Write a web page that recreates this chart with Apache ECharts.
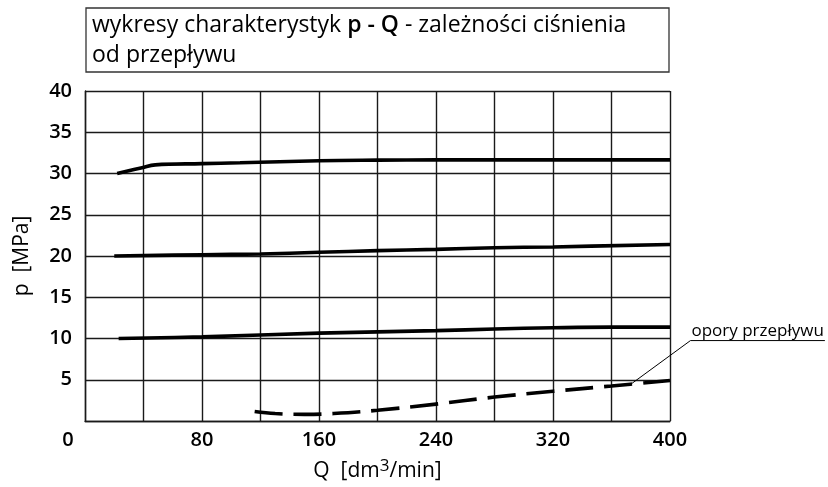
<!DOCTYPE html>
<html><head><meta charset="utf-8">
<script src="https://cdn.jsdelivr.net/npm/echarts@6/dist/echarts.min.js"></script>
<style>html,body{margin:0;padding:0;background:#fff}#c{width:828px;height:487px}</style>
</head><body><div id="c"></div>
<script>
// Data
const xLabelValues = [0, 80, 160, 240, 320, 400];
const yLabelValues = [5, 10, 15, 20, 25, 30, 35, 40];
const curve30 = [[22,30],[39,30.7],[48,31.05],[80,31.2],[106,31.3],[160,31.55],[200,31.62],[240,31.65],[320,31.65],[400,31.65]];
const curve20 = [[20,20],[80,20.15],[120,20.25],[160,20.45],[200,20.65],[240,20.8],[280,21.0],[320,21.1],[400,21.4]];
const curve10 = [[23,10],[80,10.2],[160,10.65],[240,10.95],[280,11.15],[320,11.3],[360,11.38],[400,11.38]];
const resistance = [[116,1.15],[130,0.9],[150,0.8],[170,0.9],[200,1.3],[240,2.05],[280,2.9],[320,3.6],[360,4.25],[400,4.9]];
const annotAnchor = [374, 4.56];
const annotLabelAt = [414, 9.75];
const annotText = 'opory przepływu';
const titleLine1 = ['wykresy charakterystyk ', 'p - Q', ' - zależności ciśnienia'];
const titleLine2 = 'od przepływu';

const FONT = '"Open Sans", sans-serif';
const chart = echarts.init(document.getElementById('c'), null, {renderer: 'canvas'});

function lineSeries(data, dashed) {
  return {
    type: 'line', data: data, smooth: 0.4, symbol: 'none', silent: true,
    lineStyle: {color: '#000', width: 3.6, type: dashed ? [28, 11] : 'solid', cap: 'butt'}
  };
}

chart.setOption({
  animation: false,
  backgroundColor: '#fff',
  grid: {left: 85, right: 158, top: 91, bottom: 63},
  xAxis: {
    type: 'value', min: 0, max: 400, interval: 40,
    name: 'Q  [dm{sup|3}/min]', nameLocation: 'middle', nameGap: 37,
    nameTextStyle: {fontFamily: FONT, fontSize: 21, color: '#000',
      rich: {sup: {fontFamily: FONT, fontSize: 17, color: '#000', verticalAlign: 'bottom', padding: [0,0,10,0]}}},
    axisLine: {show: true, lineStyle: {color: '#1a1a1a', width: 1.4}},
    axisTick: {show: false},
    splitLine: {show: true, lineStyle: {color: '#1a1a1a', width: 1.4}},
    axisLabel: {
      margin: 9, fontFamily: FONT, fontSize: 20, fontWeight: 600, color: '#000',
      formatter: function (v) {
        if (xLabelValues.indexOf(v) < 0) return '';
        return v === 0 ? '{z|0}' : String(v);
      },
      rich: {z: {fontFamily: FONT, fontSize: 20, fontWeight: 600, color: '#000', padding: [0, 34, 0, 0]}}
    }
  },
  yAxis: {
    type: 'value', min: 0, max: 40, interval: 5,
    name: 'p  [MPa]', nameLocation: 'middle', nameGap: 52, nameRotate: 90,
    nameTextStyle: {fontFamily: FONT, fontSize: 21, color: '#000'},
    axisLine: {show: true, lineStyle: {color: '#1a1a1a', width: 1.4}},
    axisTick: {show: false},
    splitLine: {show: true, lineStyle: {color: '#1a1a1a', width: 1.4}},
    axisLabel: {
      margin: 13, fontFamily: FONT, fontSize: 20, fontWeight: 600, color: '#000', padding: [6, 0, 0, 0],
      formatter: function (v) { return yLabelValues.indexOf(v) < 0 ? '' : String(v); }
    }
  },
  series: [lineSeries(curve30), lineSeries(curve20), lineSeries(curve10), lineSeries(resistance, true)]
});

const a = chart.convertToPixel({gridIndex: 0}, annotAnchor);
const b = chart.convertToPixel({gridIndex: 0}, annotLabelAt);
const ctx = document.createElement('canvas').getContext('2d');
ctx.font = '17px "Open Sans"';
const tw = ctx.measureText(annotText).width;

chart.setOption({
  graphic: [
    {id: 'tbox', type: 'rect', shape: {x: 86, y: 8, width: 583, height: 64},
      style: {fill: '#fff', stroke: '#333', lineWidth: 1.3}, silent: true},
    {id: 'ttext', type: 'text', x: 92, y: 10, silent: true,
      style: {
        text: '{n|' + titleLine1[0] + '}{b|' + titleLine1[1] + '}{n|' + titleLine1[2] + '}\n{n|' + titleLine2 + '}',
        rich: {
          n: {fontFamily: FONT, fontSize: 23, fill: '#000', lineHeight: 30},
          b: {fontFamily: FONT, fontSize: 23, fontWeight: 600, fill: '#000', lineHeight: 30}
        }
      }},
    {id: 'lead', type: 'line', shape: {x1: a[0], y1: a[1], x2: b[0], y2: b[1]},
      style: {stroke: '#000', lineWidth: 1}, silent: true},
    {id: 'under', type: 'line', shape: {x1: b[0], y1: b[1], x2: b[0] + tw + 2, y2: b[1]},
      style: {stroke: '#000', lineWidth: 1}, silent: true},
    {id: 'atext', type: 'text', x: b[0] + 1, y: b[1] - 1, silent: true,
      style: {text: annotText, fontFamily: FONT, fontSize: 17, fill: '#000', textVerticalAlign: 'bottom'}}
  ]
});
</script>
</body></html>
